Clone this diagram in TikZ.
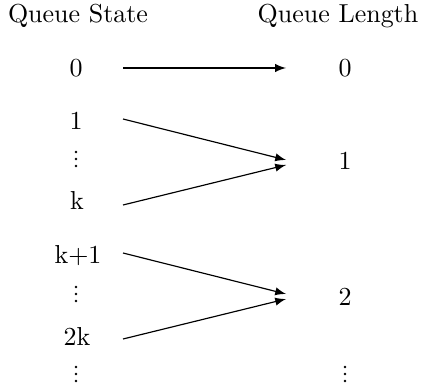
\documentclass[tikz,border=0pt]{standalone}
\usetikzlibrary{arrows}
\begin{document}
\begin{tikzpicture}[x=0.385pt,y=-0.385pt,
  lbl/.style={anchor=base,inner sep=0pt},
  conn/.style={-latex,line width=0.45pt},
  vdotsp/.pic={\foreach \dy in {-15,-8,-1} \fill (0,\dy) circle[radius=0.55pt];}]
\useasboundingbox (0,0) rectangle (423,392);
% headers
\node[lbl] (hs) at (78,23) {Queue State};
\node[lbl] (hl) at (338,23) {Queue Length};
% left column
\node[lbl] (s0) at (76,77) {0};
\node[lbl] (s1) at (76,130) {1};
\pic (sd1) at (76,167) {vdotsp};
\node[lbl] (sk) at (77,210) {k};
\node[lbl] (sk1) at (78,263) {k+1};
\pic (sd2) at (76,302) {vdotsp};
\node[lbl] (s2k) at (77,345) {2k};
\pic (sd3) at (76,382) {vdotsp};
% right column
\node[lbl] (l0) at (345,77) {0};
\node[lbl] (l1) at (345,170) {1};
\node[lbl] (l2) at (345,305) {2};
\pic (ld) at (345,382) {vdotsp};
% connector end points
\coordinate (a0) at (123,68);
\coordinate (b0) at (286,68);
\coordinate (a1) at (123,119);
\coordinate (b1) at (286,160);
\coordinate (ak) at (123,205);
\coordinate (bk) at (286,165);
\coordinate (ak1) at (123,253);
\coordinate (bk1) at (286,294);
\coordinate (a2k) at (123,339);
\coordinate (b2k) at (286,299);
\draw[conn] (a0) -- (b0);
\draw[conn] (a1) -- (b1);
\draw[conn] (ak) -- (bk);
\draw[conn] (ak1) -- (bk1);
\draw[conn] (a2k) -- (b2k);
\end{tikzpicture}
\end{document}
